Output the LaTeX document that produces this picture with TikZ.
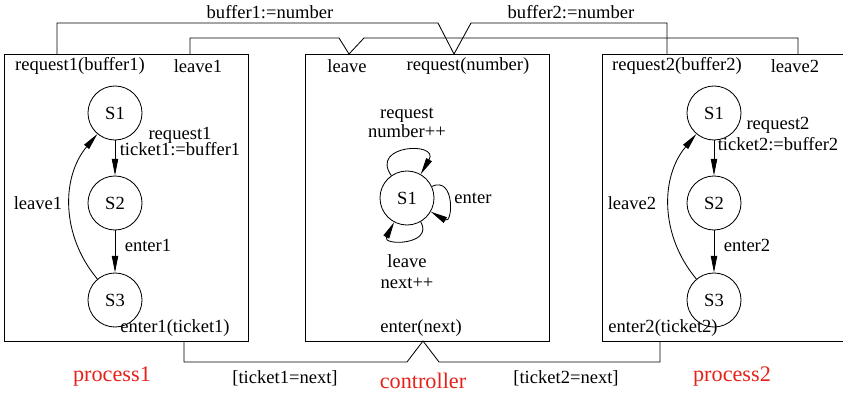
\documentclass[tikz,border=0pt]{standalone}
\usepackage{fontspec}
\setmainfont{Liberation Serif}
\usepackage{xcolor}
\definecolor{procred}{RGB}{228,34,26}
\usepackage{tikz}
\usetikzlibrary{arrows.meta, positioning}
\tikzstyle{box} = [
    rectangle, draw,
    inner sep=0pt, outer sep=0pt,
    minimum width=6.1cm,
    minimum height=7.175cm,
]
\tikzstyle{state} = [
    circle, draw,
    inner sep=0pt,
    minimum size=1.35cm,
]
\tikzstyle{title} = [
    text=procred,
    font=\fontsize{15.8}{18}\selectfont,
]
\tikzstyle{arrow} = [-{Triangle[length=4.2mm,width=1.6mm]}]

\begin{document}
\begin{tikzpicture}[x=0.025cm, y=0.025cm, line width=0.6pt,
    font=\fontsize{13.2}{15}\selectfont]
    \useasboundingbox (0,0) rectangle (843,-394);

    % boxes
    \node (proc1) at (126,-197.5) [box] {};
    \node (ctrl) at (427.5,-197.5) [box] {};
    \node (proc2) at (724,-197.5) [box] {};

    % ports
    \node (req1) at (80,-66) {request1(buffer1)};
    \node (lv1) at (198,-66) {leave1};
    \node (ent1) at (175,-328) {enter1(ticket1)};
    \node (lv) at (347,-66) {leave};
    \node (req) at (468,-66) {request(number)};
    \node (ent) at (421,-328) {enter(next)};
    \node (req2) at (677,-66) {request2(buffer2)};
    \node (lv2) at (795,-66) {leave2};
    \node (ent2) at (663,-328) {enter2(ticket2)};

    \coordinate (req1pin) at (57,-54);
    \coordinate (reqpin) at (454,-54);
    \coordinate (req2pin) at (667,-54);
    \coordinate (lv1pin) at (190,-54);
    \coordinate (lvpin) at (349,-54);
    \coordinate (lv2pin) at (798,-54);
    \coordinate (ent1pin) at (184,-341);
    \coordinate (entpin) at (423,-341);
    \coordinate (ent2pin) at (660,-341);

    % states of both processes
    \foreach \p/\x in {1/115, 2/714} {
        \node (p\p-s1) at (\x,-113) [state] {S1};
        \node (p\p-s2) at (\x,-203) [state] {S2};
        \node (p\p-s3) at (\x,-300) [state] {S3};
        \draw [arrow] (p\p-s1) -- (p\p-s2);
        \draw [arrow] (p\p-s2) -- (p\p-s3);
        \draw [arrow] (p\p-s3) to[bend left=40] (p\p-s1);
    }
    \node (p1-req) at (180,-141.5) [align=center] {request1\\[-3.5pt]ticket1:=buffer1};
    \node (p1-ent) at (148,-245) {enter1};
    \node (p1-lv) at (38,-203) {leave1};
    \node (p2-req) at (778,-134) [align=center] {request2\\ticket2:=buffer2};
    \node (p2-ent) at (747,-245) {enter2};
    \node (p2-lv) at (632,-203) {leave2};

    % controller
    \node (c-s1) at (407,-198) [state] {S1};
    \draw [arrow] (c-s1) to[out=125,in=60,looseness=3.3] (c-s1);
    \draw [arrow] (c-s1) to[out=25,in=-30,looseness=2.6] (c-s1);
    \draw [arrow] (c-s1) to[out=-60,in=-118,looseness=2.6] (c-s1);
    \node (c-req) at (407,-123) [align=center] {request\\[-1pt]number++};
    \node (c-ent) at (473,-198) {enter};
    \node (c-lv) at (407,-271.5) [align=center] {leave\\next++};

    % wires
    \draw (req1pin) |- (438,-23) -- (reqpin) -- (471,-23) -| (req2pin);
    \draw (lv1pin) |- (339,-38) -- (lvpin) -- (364,-38) -| (lv2pin);
    \draw (ent1pin) |- (407,-362) -- (entpin) -- (439,-362) -| (ent2pin);
    \node (buf1) at (270,-12) {buffer1:=number};
    \node (buf2) at (571,-12) {buffer2:=number};
    \node (tk1) at (285,-378) {[ticket1=next]};
    \node (tk2) at (566,-378) {[ticket2=next]};

    % names
    \node (name1) at (112,-377) [title] {process1};
    \node (namec) at (423,-381) [title] {controller};
    \node (name2) at (732,-377) [title] {process2};
\end{tikzpicture}
\end{document}
